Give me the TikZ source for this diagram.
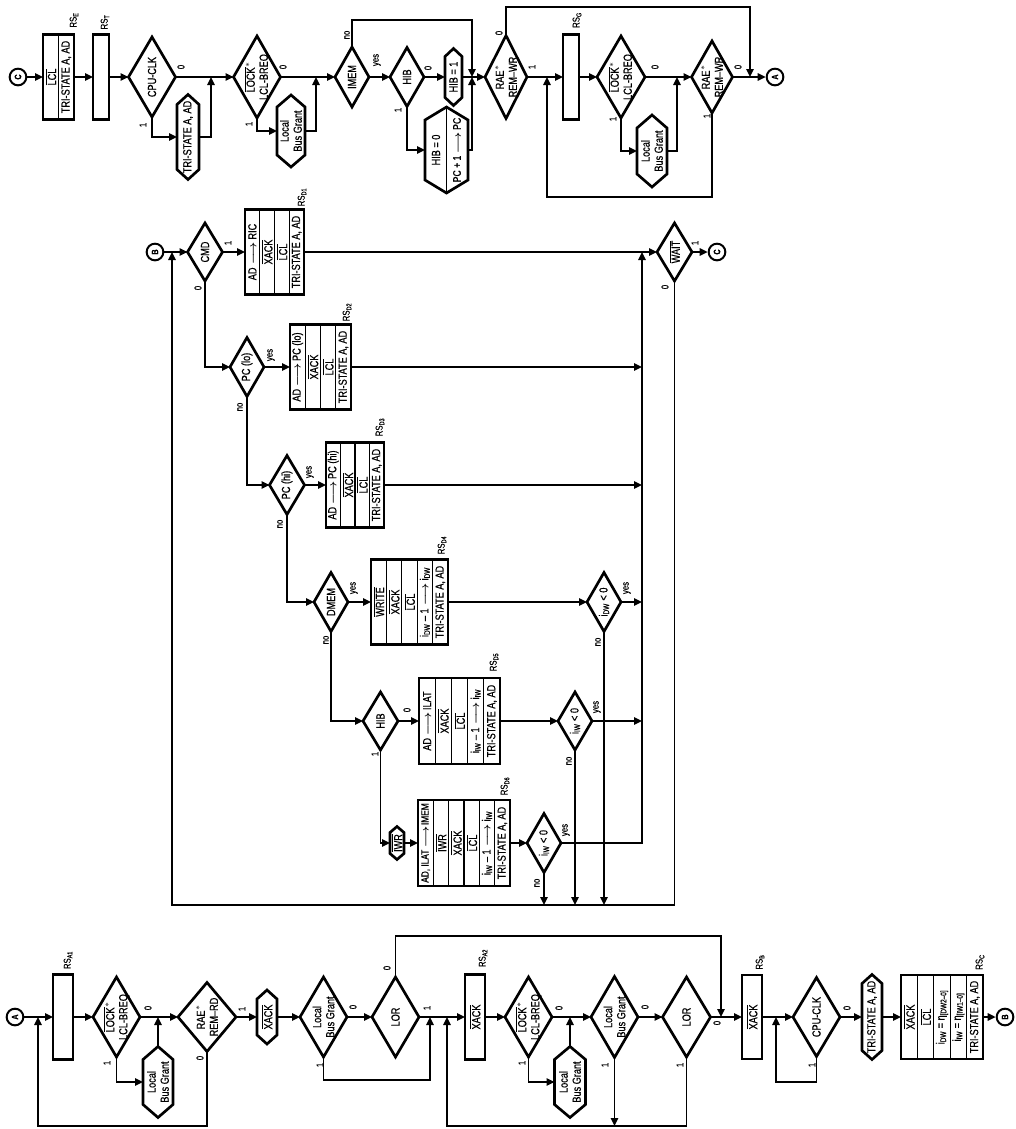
\documentclass[tikz,border=0pt]{standalone}
\usepackage{fontspec}
\setmainfont{Liberation Sans}[FakeStretch=0.78,FakeBold=0.6]
\usetikzlibrary{arrows.meta,shapes.geometric}
\usepackage{amsmath}
\newcommand\ovl[1]{$\overline{\mbox{#1}}$}
\newcommand\lra{$\boldsymbol{\longrightarrow}$}
\newcommand\rsbox[7]{%
  \node[box, wh={#4}{#5}] (#1) at (#2,#3) {};
  \foreach \tx [count=\kk] in {#7} {%
    \pgfmathsetmacro\xx{#2-#4/2+(\kk-0.5)*#4/#6}%
    \node[txt] (#1-\kk) at (\xx,#3) {\tx};
    \ifnum\kk<#6\relax
      \pgfmathsetmacro\xd{#2-#4/2+\kk*#4/#6}%
      \draw[divl] (\xd,#3-#5/2) -- (\xd,#3+#5/2);
    \fi
  }%
}
\newcommand\hexn[7]{%
  \node[wh={#4}{#5}, inner sep=0pt, outer sep=0pt] (#1) at (#2,#3) {};
  \draw[hexl] (#1.north) -- ([yshift=-#6*0.75pt]#1.north east) -- ([yshift=#6*0.75pt]#1.south east) -- (#1.south) -- ([yshift=#6*0.75pt]#1.south west) -- ([yshift=-#6*0.75pt]#1.north west) -- cycle;
  \node[txt] (#1t) at (#1) {#7};
}
\begin{document}
\begin{tikzpicture}[x=0.75pt,y=-0.75pt,
  wh/.style 2 args={minimum width=#1*0.75pt, minimum height=#2*0.75pt},
  shp/.style={draw, line width=2pt, inner sep=0pt, outer sep=0pt},
  box/.style={shp, rectangle},
  dia/.style={shp, diamond},
  hexl/.style={line width=2pt, line join=miter},
  circ/.style={draw, circle, line width=1.5pt, minimum size=12.5pt, inner sep=0pt, rotate=90, font=\fontsize{7}{7}\selectfont\bfseries},
  txt/.style={rotate=90, align=center, inner sep=0pt, font=\fontsize{8.8}{9.8}\selectfont},
  lab/.style={rotate=90, inner sep=0pt, font=\fontsize{7.5}{8}\selectfont},
  rs/.style={rotate=90, inner sep=0pt, font=\fontsize{7.5}{8}\selectfont},
  con/.style={line width=1.4pt},
  arr/.style={con, -{Triangle[length=6pt,width=5.5pt]}},
  divl/.style={line width=0.8pt}]
\useasboundingbox (0,0) rectangle (1016,1129);

% ================= top row =================
\node[circ] (cC) at (18,77) {C};
\rsbox{E}{58.5}{77}{31}{85}{2}{{\ovl{LCL}},{TRI-STATE A, AD}}
\node[box, wh={16}{85}] (T) at (101,77) {};
\node[dia, wh={47}{80}] (cpu1) at (152,77) {};
\node[txt] (cpu1t) at (cpu1) {CPU-CLK};
\hexn{ts1}{188}{137}{22}{85}{10}{TRI-STATE A, AD}
\coordinate (j1) at (211,77);
\node[dia, wh={47}{82}] (lock1) at (257,77) {};
\node[txt] (lock1t) at (lock1) {\ovl{LOCK}$^*$\\LCL-BREQ};
\hexn{lbg1}{291}{131}{28}{72}{12}{Local\\Bus Grant}
\coordinate (j2) at (316,77);
\node[dia, wh={34}{60}] (imem) at (352,77) {};
\node[txt] (imemt) at (imem) {IMEM};
\node[dia, wh={34}{59}] (hib1) at (407,77) {};
\node[txt] (hib1t) at (hib1) {HIB};
\hexn{hibone}{453.5}{77}{17}{57}{8}{HIB = 1}
\hexn{hibpc}{446.5}{150}{43}{86}{13}{}
\draw[divl] (hibpc.north) -- (hibpc.south);
\node[txt] (hibpc1) at (436,150) {HIB = 0};
\node[txt, font=\fontsize{8.3}{9}\selectfont] (hibpc2) at (457,150) {PC + 1 \lra\ PC};
\coordinate (j3) at (472,77);
\coordinate (t3) at (472,20);
\node[dia, wh={42}{83}] (rae1) at (506,77) {};
\node[txt] (rae1t) at (rae1) {RAE$^*$\\REM--WR};
\coordinate (t6) at (750,7);
\coordinate (j6) at (750,77);
\coordinate (j4) at (547,77);
\coordinate (b4) at (547,197);
\node[box, wh={16}{85}] (G) at (571,77) {};
\node[dia, wh={48}{82}] (lock2) at (621,77) {};
\node[txt] (lock2t) at (lock2) {\ovl{LOCK}$^*$\\LCL-BREQ};
\hexn{lbg2}{652}{151}{30}{72}{13}{Local\\Bus Grant}
\coordinate (j5) at (677,77);
\node[dia, wh={41}{72}] (rae2) at (712,77) {};
\node[txt] (rae2t) at (rae2) {RAE$^*$\\REM--WR};
\node[circ] (cA) at (775,77) {A};

\draw[arr] (cC) -- (E.west);
\draw[arr] (E.east) -- (T.west);
\draw[arr] (T.east) -- (cpu1.west);
\draw[arr] (cpu1.east) -- (lock1.west);
\draw[arr] (cpu1.south) |- (ts1.west);
\draw[arr] (ts1.east) -| (j1);
\draw[arr] (lock1.east) -- (imem.west);
\draw[arr] (lock1.south) |- (lbg1.west);
\draw[arr] (lbg1.east) -| (j2);
\draw[arr] (imem.east) -- (hib1.west);
\draw[arr] (imem.north) |- (t3) -- (j3);
\draw[arr] (hib1.east) -- (hibone.west);
\draw[arr] (hib1.south) |- (hibpc.west);
\draw[arr] (hibpc.east) -| (j3);
\draw[arr] (hibone.east) -- (rae1.west);
\draw[arr] (rae1.north) |- (t6) -- (j6);
\draw[arr] (rae1.east) -- (G.west);
\draw[arr] (rae2.south) |- (b4) -- (j4);
\draw[arr] (G.east) -- (lock2.west);
\draw[arr] (lock2.south) |- (lbg2.west);
\draw[arr] (lbg2.east) -| (j5);
\draw[arr] (lock2.east) -- (rae2.west);
\draw[arr] (rae2.east) -- (cA);

\node[lab] (l01) at (181,67) {0};
\node[lab] (l02) at (143,125) {1};
\node[lab] (l03) at (283,67) {0};
\node[lab] (l04) at (249,124) {1};
\node[lab] (l05) at (347,35) {no};
\node[lab] (l06) at (377,60) {yes};
\node[lab] (l07) at (428,68) {0};
\node[lab] (l08) at (398,110) {1};
\node[lab] (l09) at (499,33) {0};
\node[lab] (l10) at (532,67) {1};
\node[lab] (l11) at (655,67) {0};
\node[lab] (l12) at (613,119) {1};
\node[lab] (l13) at (738,67) {0};
\node[lab] (l14) at (707,116) {1};

\node[rs] (rsE) at (74,20) {RS\textsubscript{E}};
\node[rs] (rsT) at (105,22) {RS\textsubscript{T}};
\node[rs] (rsG) at (577,20) {RS\textsubscript{G}};

% ================= middle =================
\node[circ] (cB) at (155,252) {B};
\node[dia, wh={35}{58}] (cmd) at (205,252) {};
\node[txt] (cmdt) at (cmd) {CMD};
\rsbox{D1}{274.5}{252}{59}{85}{4}{{AD \lra\ RIC},{\ovl{XACK}},{\ovl{LCL}},{TRI-STATE A, AD}}
\node[dia, wh={35}{58}] (wait) at (674.5,252) {};
\node[txt] (waitt) at (wait) {\ovl{WAIT}};
\node[circ] (cC2) at (717,252) {C};
\coordinate (jb) at (172,252);
\coordinate (fl) at (172,905);
\coordinate (jc1) at (642,252);
\node[dia, wh={34}{59}] (pclo) at (247,367) {};
\node[txt] (pclot) at (pclo) {PC (lo)};
\rsbox{D2}{320.5}{367}{61}{85}{4}{{AD \lra\ PC (lo)},{\ovl{XACK}},{\ovl{LCL}},{TRI-STATE A, AD}}
\coordinate (jc2) at (642,367);
\node[dia, wh={35}{59}] (pchi) at (287,485) {};
\node[txt] (pchit) at (pchi) {PC (hi)};
\rsbox{D3}{355}{485}{58}{85}{4}{{AD \lra\ PC (hi)},{\ovl{XACK}},{\ovl{LCL}},{TRI-STATE A, AD}}
\coordinate (jc3) at (642,485);
\node[dia, wh={34}{59}] (dmem) at (331,602) {};
\node[txt] (dmemt) at (dmem) {DMEM};
\rsbox{D4}{409.5}{602}{77}{85}{5}{{\ovl{WRITE}},{\ovl{XACK}},{\ovl{LCL}},{i\textsubscript{DW} -- 1 \lra\ i\textsubscript{DW}},{TRI-STATE A, AD}}
\node[dia, wh={34}{59}] (idw) at (604,602) {};
\node[txt] (idwt) at (idw) {i\textsubscript{DW} < 0};
\coordinate (jc4) at (642,602);
\coordinate (bd4) at (604,905);
\node[dia, wh={35}{58}] (hib2) at (380.5,721) {};
\node[txt] (hib2t) at (hib2) {HIB};
\rsbox{D5}{459.5}{721}{81}{86}{5}{{AD \lra\ ILAT},{\ovl{XACK}},{\ovl{LCL}},{i\textsubscript{IW} -- 1 \lra\ i\textsubscript{IW}},{TRI-STATE A, AD}}
\node[dia, wh={34}{58}] (iiw1) at (575,721) {};
\node[txt] (iiw1t) at (iiw1) {i\textsubscript{IW} < 0};
\coordinate (jc5) at (642,721);
\coordinate (bd5) at (575,905);
\hexn{iwr}{397}{843}{14}{33}{6}{\ovl{IWR}}
\rsbox{D6}{464}{843}{92}{86}{6}{{\fontsize{8}{9}\selectfont AD, ILAT\,\lra\,IMEM},{\ovl{IWR}},{\ovl{XACK}},{\ovl{LCL}},{i\textsubscript{IW} -- 1 \lra\ i\textsubscript{IW}},{TRI-STATE A, AD}}
\node[dia, wh={34}{59}] (iiw2) at (544,843) {};
\node[txt] (iiw2t) at (iiw2) {i\textsubscript{IW} < 0};
\coordinate (bd6) at (544,905);

\draw[arr] (cB) -- (cmd.west);
\draw[arr] (cmd.east) -- (D1.west);
\draw[arr] (D1.east) -- (wait.west);
\draw[arr] (wait.east) -- (cC2);
\draw[arr] (wait.south) |- (fl) -- (jb);
\draw[arr] (cmd.south) |- (pclo.west);
\draw[arr] (pclo.east) -- (D2.west);
\draw[arr] (D2.east) -- (jc2);
\draw[arr] (pclo.south) |- (pchi.west);
\draw[arr] (pchi.east) -- (D3.west);
\draw[arr] (D3.east) -- (jc3);
\draw[arr] (pchi.south) |- (dmem.west);
\draw[arr] (dmem.east) -- (D4.west);
\draw[arr] (D4.east) -- (idw.west);
\draw[arr] (idw.east) -- (jc4);
\draw[arr] (idw.south) -- (bd4);
\draw[arr] (dmem.south) |- (hib2.west);
\draw[arr] (hib2.east) -- (D5.west);
\draw[arr] (D5.east) -- (iiw1.west);
\draw[arr] (iiw1.east) -- (jc5);
\draw[arr] (iiw1.south) -- (bd5);
\draw[arr] (hib2.south) |- (iwr.west);
\draw[arr] (iwr.east) -- (D6.west);
\draw[arr] (D6.east) -- (iiw2.west);
\draw[arr] (iiw2.east) -| (jc1);
\draw[arr] (iiw2.south) -- (bd6);

\node[lab] (m01) at (228,243) {1};
\node[lab] (m02) at (198,288) {0};
\node[lab] (m03) at (271,355) {yes};
\node[lab] (m04) at (240,407) {no};
\node[lab] (m05) at (310,472) {yes};
\node[lab] (m06) at (280,524) {no};
\node[lab] (m07) at (354,588) {yes};
\node[lab] (m08) at (326,640) {no};
\node[lab] (m09) at (407,710) {0};
\node[lab] (m10) at (375,754) {1};
\node[lab] (m11) at (597,707) {yes};
\node[lab] (m12) at (569,761) {no};
\node[lab] (m13) at (566,830) {yes};
\node[lab] (m14) at (537,883) {no};
\node[lab] (m15) at (627,588) {yes};
\node[lab] (m16) at (598,642) {no};
\node[lab] (m17) at (695,243) {1};
\node[lab] (m18) at (665,287) {0};

\node[rs] (rsD1) at (302,197) {RS\textsubscript{D1}};
\node[rs] (rsD2) at (347,312) {RS\textsubscript{D2}};
\node[rs] (rsD3) at (380,427) {RS\textsubscript{D3}};
\node[rs] (rsD4) at (442,545) {RS\textsubscript{D4}};
\node[rs] (rsD5) at (494,662) {RS\textsubscript{D5}};
\node[rs] (rsD6) at (505,786) {RS\textsubscript{D6}};

% ================= bottom row =================
\node[circ] (cA2) at (15,1017) {A};
\coordinate (jA) at (38,1017);
\coordinate (lb1) at (38,1126);
\node[box, wh={20}{85}] (A1) at (63,1017) {};
\node[dia, wh={47}{80}] (lock3) at (116.5,1017) {};
\node[txt] (lock3t) at (lock3) {\ovl{LOCK}$^*$\\LCL-BREQ};
\hexn{lbg3}{158}{1082}{30}{71}{13}{Local\\Bus Grant}
\coordinate (jl3) at (158,1017);
\node[dia, wh={58}{69}] (rae3) at (207,1017) {};
\node[txt] (rae3t) at (rae3) {RAE$^*$\\REM--RD};
\hexn{xk}{267}{1017}{20}{54}{9}{\ovl{XACK}}
\node[dia, wh={47}{80}] (lbgd1) at (323.5,1017) {};
\node[txt] (lbgd1t) at (lbgd1) {Local\\Bus Grant};
\node[dia, wh={47}{80}] (lor1) at (395.5,1017) {};
\node[txt] (lor1t) at (lor1) {LOR};
\coordinate (c4) at (430,1080);
\coordinate (jl4) at (430,1017);
\coordinate (lt1) at (721,936);
\coordinate (jB) at (721,1017);
\coordinate (jl5) at (447,1017);
\coordinate (lb2) at (447,1126);
\node[box, wh={20}{85}] (A2b) at (475,1017) {};
\node[txt] (A2bt) at (A2b) {\ovl{XACK}};
\node[dia, wh={47}{80}] (lock4) at (528.5,1017) {};
\node[txt] (lock4t) at (lock4) {\ovl{LOCK}$^*$\\LCL-BREQ};
\hexn{lbg4}{570}{1082}{31}{71}{13}{Local\\Bus Grant}
\coordinate (jl6) at (570,1017);
\node[dia, wh={47}{81}] (lbgd2) at (614.5,1017) {};
\node[txt] (lbgd2t) at (lbgd2) {Local\\Bus Grant};
\coordinate (lbd) at (614.5,1126);
\node[dia, wh={48}{80}] (lor2) at (686.5,1017) {};
\node[txt] (lor2t) at (lor2) {LOR};
\node[box, wh={20}{84}] (Bb) at (752,1017) {};
\node[txt] (Bbt) at (Bb) {\ovl{XACK}};
\coordinate (jcpu) at (776,1017);
\coordinate (lc) at (776,1082);
\node[dia, wh={47}{79}] (cpu2) at (816.5,1017) {};
\node[txt] (cpu2t) at (cpu2) {CPU-CLK};
\hexn{ts2}{872}{1017}{20}{85}{9}{TRI-STATE A, AD}
\rsbox{Cb}{942}{1017}{82}{84}{5}{{\ovl{XACK}},{\ovl{LCL}},{i\textsubscript{DW} = η\textsubscript{[DW2--0]}},{i\textsubscript{IW} = η\textsubscript{[IW1--0]}},{TRI-STATE A, AD}}
\node[circ] (cB2) at (1005,1017) {B};

\draw[arr] (cA2) -- (A1.west);
\draw[arr] (A1.east) -- (lock3.west);
\draw[arr] (lock3.south) |- (lbg3.west);
\draw[arr] (lbg3.north) -- (jl3);
\draw[arr] (lock3.east) -- (rae3.west);
\draw[arr] (rae3.south) |- (lb1) -- (jA);
\draw[arr] (rae3.east) -- (xk.west);
\draw[arr] (xk.east) -- (lbgd1.west);
\draw[arr] (lbgd1.east) -- (lor1.west);
\draw[arr] (lbgd1.south) |- (c4) -- (jl4);
\draw[arr] (lor1.north) |- (lt1) -- (jB);
\draw[arr] (lor1.east) -- (A2b.west);
\draw[arr] (A2b.east) -- (lock4.west);
\draw[arr] (lock4.south) |- (lbg4.west);
\draw[arr] (lbg4.north) -- (jl6);
\draw[arr] (lock4.east) -- (lbgd2.west);
\draw[arr] (lbgd2.east) -- (lor2.west);
\draw[arr] (lbgd2.south) -- (lbd);
\draw[arr] (lor2.south) |- (lb2) -- (jl5);
\draw[arr] (lor2.east) -- (Bb.west);
\draw[arr] (Bb.east) -- (cpu2.west);
\draw[arr] (cpu2.south) |- (lc) -- (jcpu);
\draw[arr] (cpu2.east) -- (ts2.west);
\draw[arr] (ts2.east) -- (Cb.west);
\draw[arr] (Cb.east) -- (cB2);

\node[lab] (b01) at (148,1008) {0};
\node[lab] (b02) at (107,1063) {1};
\node[lab] (b03) at (242,1009) {1};
\node[lab] (b04) at (200,1058) {0};
\node[lab] (b05) at (353,1007) {0};
\node[lab] (b06) at (320,1065) {1};
\node[lab] (b07) at (387,968) {0};
\node[lab] (b08) at (427,1008) {1};
\node[lab] (b09) at (559,1008) {0};
\node[lab] (b10) at (522,1063) {1};
\node[lab] (b11) at (645,1007) {0};
\node[lab] (b12) at (605,1065) {1};
\node[lab] (b13) at (717,1023) {0};
\node[lab] (b14) at (680,1065) {1};
\node[lab] (b15) at (847,1008) {0};
\node[lab] (b16) at (812,1065) {1};

\node[rs] (rsA1) at (68,960) {RS\textsubscript{A1}};
\node[rs] (rsA2) at (483,958) {RS\textsubscript{A2}};
\node[rs] (rsB) at (760,962) {RS\textsubscript{B}};
\node[rs] (rsC) at (980,962) {RS\textsubscript{C}};
\end{tikzpicture}
\end{document}
